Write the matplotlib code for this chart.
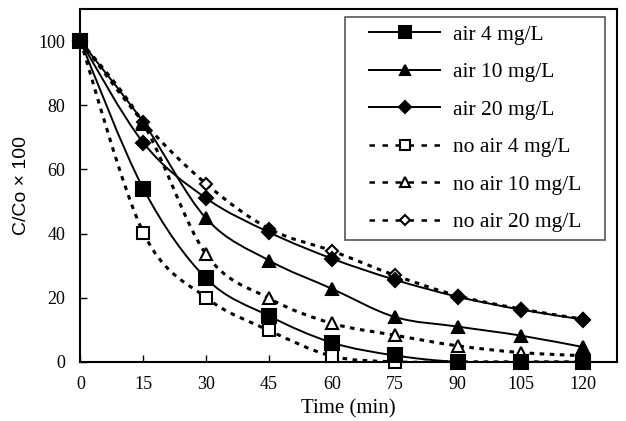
import numpy as np
import matplotlib
matplotlib.use("Agg")
import matplotlib.pyplot as plt
from matplotlib.path import Path
from matplotlib.patches import PathPatch
from matplotlib.lines import Line2D

# time points (min)
time = [0, 15, 30, 45, 60, 75, 90, 105, 120]

# C/Co x 100
air_4 = [100, 54, 26, 14.3, 6, 2, 0, 0, 0]
air_10 = [100, 74.7, 44.7, 31.6, 22.8, 14, 11, 8.2, 4.6]
air_20 = [100, 68.3, 51, 40.4, 32.2, 25.6, 20.3, 16.3, 13.2]
noair_4 = [100, 40.3, 20, 9.8, 1.8, 0, 0, 0, 0]
noair_10 = [100, 74.3, 33.5, 19.8, 12, 8.3, 5, 2.9, 1.9]
noair_20 = [100, 74.8, 55.5, 41.5, 34.6, 27, 20.6, 16.5, 13.3]

labels = ["air 4 mg/L", "air 10 mg/L", "air 20 mg/L",
          "no air 4 mg/L", "no air 10 mg/L", "no air 20 mg/L"]

plt.rcParams['font.family'] = ['Liberation Serif', 'DejaVu Serif']


def smooth_path(x, y):
    # Catmull-Rom style bezier through the points (like Excel smoothed lines)
    x = np.asarray(x, float)
    y = np.asarray(y, float)
    verts = [(x[0], y[0])]
    codes = [Path.MOVETO]
    n = len(x)
    for i in range(n - 1):
        p0 = np.array([x[max(i - 1, 0)], y[max(i - 1, 0)]])
        p1 = np.array([x[i], y[i]])
        p2 = np.array([x[i + 1], y[i + 1]])
        p3 = np.array([x[min(i + 2, n - 1)], y[min(i + 2, n - 1)]])
        c1 = p1 + (p2 - p0) / 6.0
        c2 = p2 - (p3 - p1) / 6.0
        verts += [tuple(c1), tuple(c2), tuple(p2)]
        codes += [Path.CURVE4] * 3
    return Path(verts, codes)


def wide_box(x0, y0, width, height, mutation_size):
    # legend frame with more padding left/right than top/bottom
    dx = 0.75 * mutation_size
    xs = [x0 - dx, x0 + width + dx, x0 + width + dx, x0 - dx, x0 - dx]
    ys = [y0, y0, y0 + height, y0 + height, y0]
    return Path(np.column_stack([xs, ys]), closed=True)


fig = plt.figure(figsize=(6.26, 4.21), dpi=100)
ax = fig.add_axes([0.1285, 0.1405, 0.857, 0.838])

series = [air_4, air_10, air_20, noair_4, noair_10, noair_20]
markers = ['s', '^', 'D', 's', '^', 'D']
sizes = [10, 9, 7, 9, 8, 6.5]
handles = []
for i, vals in enumerate(series):
    solid = i < 3
    ls = '-' if solid else (0, (1.5, 1.8))
    lw = 1.4 if solid else 2.2
    patch = PathPatch(smooth_path(time, vals), fill=False, edgecolor='black',
                      lw=lw, linestyle=ls, zorder=2)
    ax.add_patch(patch)
    face = 'black' if solid else 'white'
    ax.plot(time, vals, ls='none', marker=markers[i], ms=sizes[i],
            mfc=face, mec='black', mew=1.5, zorder=3 if not solid else 4,
            clip_on=False)
    handles.append(Line2D([], [], color='black', lw=1.4 if solid else 1.8,
                          ls='-' if solid else (0, (2.2, 3)),
                          marker=markers[i], ms=sizes[i] * 0.85,
                          mfc=face, mec='black', mew=1.5))

ax.set_xlim(0, 128)
ax.set_ylim(0, 110)
ax.set_xticks(time)
ax.set_yticks([0, 20, 40, 60, 80, 100])
ax.tick_params(direction='in', length=5, width=1, labelsize=13)
ax.tick_params(axis='x', pad=10.5)
ax.tick_params(axis='y', pad=11)
for s in ax.spines.values():
    s.set_linewidth(1.5)

ax.set_xlabel("Time (min)", fontsize=15, labelpad=4)
ax.set_ylabel("C/Co \u00d7 100", fontsize=14, family=['Liberation Sans', 'DejaVu Sans'],
              labelpad=6)

leg = ax.legend(handles, labels, loc='upper right', bbox_to_anchor=(0.948, 0.977),
                fontsize=15.5, handlelength=3.3, handletextpad=0.6,
                labelspacing=0.81, borderpad=0.35, borderaxespad=0,
                fancybox=False, framealpha=1, edgecolor='#555555')
leg.get_frame().set_boxstyle(wide_box)
leg.get_frame().set_linewidth(1.2)

fig.savefig("out.png", dpi=100)
